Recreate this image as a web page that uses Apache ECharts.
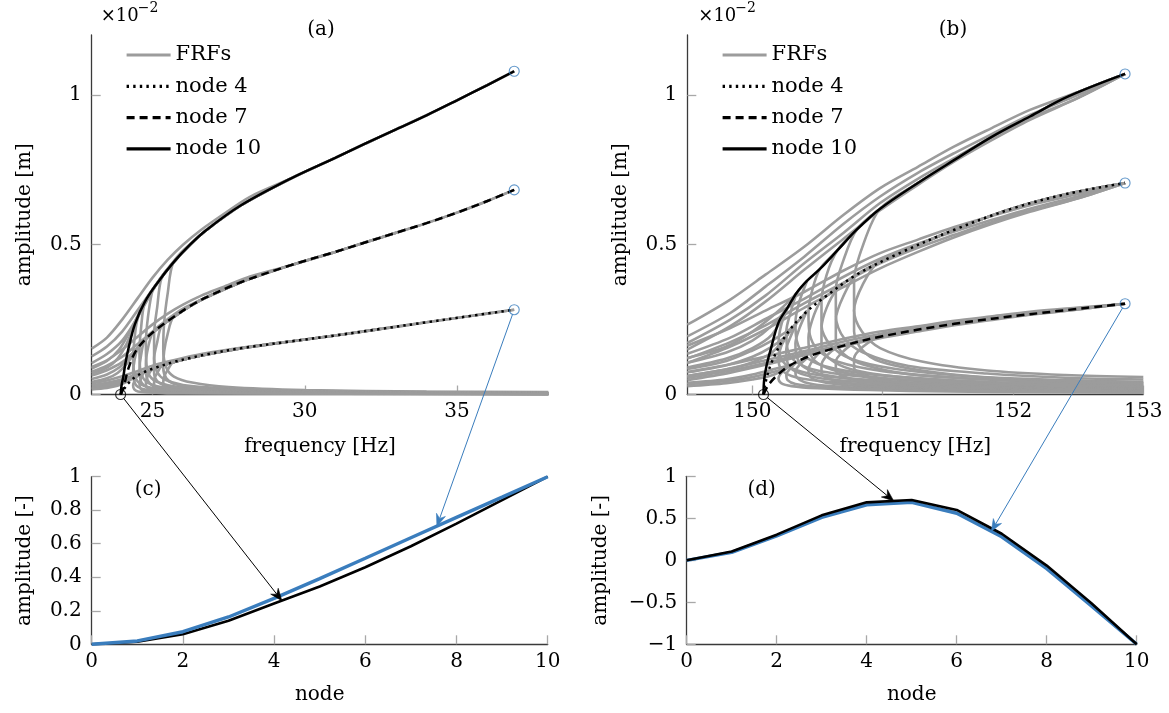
<!DOCTYPE html>
<html>
<head>
<meta charset="utf-8">
<script src="https://cdn.jsdelivr.net/npm/echarts@6.0.0/dist/echarts.min.js"></script>
<style>
  html, body { margin: 0; padding: 0; background: #fff; }
  #chart { width: 1169px; height: 713px; }
</style>
</head>
<body>
<div id="chart"></div>
<script>
// ---------------- data ----------------
// (a) first mode: backbone curves, [frequency Hz, amplitude m]
const backboneA10 = [[23.95,0],[23.98,0.0003],[24.04,0.0006],[24.1,0.001],[24.2,0.0015],[24.42,0.00235],[24.75,0.0031],[25.14,0.0037],[25.68,0.0044],[26.23,0.005],[26.78,0.0055],[27.88,0.0063],[29.52,0.0072],[31,0.0079],[32,0.00838],[33,0.00885],[34,0.00932],[35,0.00982],[36,0.01033],[36.88,0.01079]];
const backboneA7 = [[23.95,0],[24.04,0.0002],[24.1,0.00045],[24.2,0.00085],[24.42,0.0014],[24.75,0.00183],[25.14,0.00218],[25.68,0.00258],[26.23,0.00295],[26.78,0.00325],[27.88,0.00374],[29.52,0.00431],[31,0.00476],[32,0.00508],[33,0.0054],[34,0.00572],[35,0.00607],[36,0.00646],[36.88,0.00683]];
const backboneA4 = [[23.95,0],[24.04,0.00015],[24.2,0.00037],[24.42,0.00058],[24.75,0.00076],[25.14,0.00091],[25.68,0.00108],[26.23,0.00122],[26.78,0.00134],[27.88,0.00154],[29.52,0.00177],[31,0.00197],[32.5,0.00219],[34,0.00241],[35.5,0.00263],[36.88,0.00283]];

// (a) forced responses: rising branch up to where it meets the backbone
const rampA10 = [
  [[23,0.00153],[23.5,0.0019],[24,0.0025],[24.5,0.0032],[25,0.0039],[25.5,0.0045],[26,0.005],[26.6,0.0055],[27.3,0.006],[28.2,0.0066],[29.52,0.0072]],
  [[23,0.00127],[23.5,0.0016],[24,0.0021],[24.5,0.0028],[25,0.0035],[25.5,0.0042],[26,0.0048],[26.78,0.0055]],
  [[23,0.00105],[23.5,0.00135],[24,0.0018],[24.4,0.0024],[24.8,0.0031],[25.2,0.0038],[25.68,0.0044]],
  [[23,0.00087],[23.5,0.00112],[23.9,0.0015],[24.25,0.0021],[24.6,0.0028],[24.9,0.0033],[25.14,0.0037]],
  [[23,0.0007],[23.5,0.0009],[23.85,0.0012],[24.15,0.0017],[24.42,0.00235],[24.75,0.0031]]
];
const rampA7 = [
  [[23,0.00092],[23.5,0.00114],[24,0.0015],[24.5,0.00192],[25,0.00234],[25.5,0.0027],[26,0.003],[26.6,0.0033],[27.3,0.00358],[28.2,0.00394],[29.52,0.00431]],
  [[23,0.00076],[23.5,0.00096],[24,0.00126],[24.5,0.00168],[25,0.0021],[25.5,0.00252],[26,0.00287],[26.78,0.00325]],
  [[23,0.00063],[23.5,0.00081],[24,0.00108],[24.4,0.00144],[24.8,0.00186],[25.2,0.00228],[25.68,0.00258]],
  [[23,0.00052],[23.5,0.00067],[23.9,0.0009],[24.25,0.00126],[24.6,0.00168],[24.9,0.00198],[25.14,0.00218]],
  [[23,0.00042],[23.5,0.00054],[23.85,0.00072],[24.15,0.00102],[24.42,0.0014],[24.75,0.00183]]
];
const rampA4 = [
  [[23,0.00037],[23.5,0.00047],[24,0.00061],[24.5,0.00078],[25,0.00096],[25.5,0.0011],[26,0.00122],[26.6,0.00135],[27.3,0.00147],[28.2,0.0016],[29.52,0.00177]],
  [[23,0.00031],[23.5,0.00039],[24,0.00051],[24.5,0.00069],[25,0.00086],[25.5,0.00103],[26,0.00117],[26.78,0.00134]],
  [[23,0.00026],[23.5,0.00033],[24,0.00044],[24.4,0.00059],[24.8,0.00076],[25.2,0.00093],[25.68,0.00108]],
  [[23,0.00021],[23.5,0.00027],[23.9,0.00037],[24.25,0.00051],[24.6,0.00069],[24.9,0.00081],[25.14,0.00091]],
  [[23,0.00017],[23.5,0.00022],[23.85,0.00029],[24.15,0.00042],[24.42,0.00058],[24.75,0.00076]]
];
// (a) response peaks on the backbone [Hz]
const peakFreqA = [36.88, 33.5, 30.8, 28.2, 26.5];
// (a) branch leaving the backbone, turning point and low-amplitude branch
const hookA10 = [
  [[25.68,0.0044],[25.5,0.0034],[25.38,0.0024],[25.35,0.0015],[25.45,0.0009],[25.7,0.0006],[26.3,0.0004],[27.5,0.00025],[30,0.00015],[34,0.0001],[38,0.00008]],
  [[25.3,0.0039],[25.15,0.0029],[25.05,0.002],[25.05,0.0012],[25.15,0.00075],[25.4,0.0005],[26,0.00032],[27.5,0.0002],[30,0.00012],[34,0.00008],[38,0.00006]],
  [[25.0,0.00348],[24.85,0.0026],[24.78,0.0017],[24.8,0.001],[24.92,0.0006],[25.2,0.0004],[25.8,0.00026],[27.5,0.00016],[30,0.0001],[38,0.00005]],
  [[24.75,0.0031],[24.62,0.0022],[24.57,0.0014],[24.6,0.0008],[24.72,0.0005],[25,0.00032],[25.7,0.0002],[27.5,0.00012],[30,0.00008],[38,0.00004]],
  [[24.5,0.0025],[24.4,0.0018],[24.36,0.0012],[24.4,0.0007],[24.52,0.00042],[24.8,0.00026],[25.5,0.00016],[27.5,0.0001],[38,0.00003]]
];
const hookA7 = [
  [[25.68,0.00258],[25.5,0.00204],[25.38,0.00144],[25.35,0.0009],[25.45,0.00054],[25.7,0.00036],[26.3,0.00024],[27.5,0.00015],[30,0.00009],[34,0.00006],[38,0.00005]],
  [[25.3,0.0023],[25.15,0.00174],[25.05,0.0012],[25.05,0.00072],[25.15,0.00045],[25.4,0.0003],[26,0.00019],[27.5,0.00012],[30,0.00007],[38,0.00004]],
  [[25.0,0.00207],[24.85,0.00156],[24.78,0.00102],[24.8,0.0006],[24.92,0.00036],[25.2,0.00024],[25.8,0.00016],[27.5,0.0001],[38,0.00003]],
  [[24.75,0.00183],[24.62,0.0013],[24.57,0.00084],[24.6,0.00048],[24.72,0.0003],[25,0.00019],[25.7,0.00012],[27.5,0.00007],[38,0.00002]],
  [[24.5,0.0015],[24.4,0.0011],[24.36,0.00072],[24.4,0.00042],[24.52,0.00025],[24.8,0.00016],[25.5,0.0001],[38,0.00002]]
];
const hookA4 = [
  [[25.68,0.00108],[25.5,0.00083],[25.38,0.00059],[25.35,0.00037],[25.45,0.00022],[25.7,0.00015],[26.3,0.0001],[27.5,0.00006],[38,0.00002]],
  [[25.3,0.00095],[25.15,0.00071],[25.05,0.00049],[25.05,0.0003],[25.15,0.00018],[25.4,0.00012],[26,0.00008],[38,0.00002]],
  [[25.0,0.00086],[24.85,0.00064],[24.78,0.00042],[24.8,0.00025],[24.92,0.00015],[25.2,0.0001],[26,0.00006],[38,0.00001]],
  [[24.75,0.00076],[24.62,0.00054],[24.57,0.00034],[24.6,0.0002],[24.72,0.00012],[25,0.00008],[26,0.00005],[38,0.00001]],
  [[24.5,0.00062],[24.4,0.00044],[24.36,0.00029],[24.4,0.00017],[24.52,0.0001],[24.8,0.00007],[26,0.00004],[38,0.00001]]
];

// (b) second mode: backbone curves
const backboneB10 = [[150.085,0],[150.09,0.0005],[150.11,0.001],[150.14,0.0015],[150.2,0.0024],[150.27,0.0029],[150.34,0.0034],[150.42,0.0038],[150.52,0.0042],[150.65,0.0048],[150.8,0.0055],[150.98,0.0062],[151.27,0.00706],[151.55,0.00783],[151.84,0.00861],[152.13,0.00928],[152.42,0.00994],[152.86,0.0107]];
const backboneB4 = [[150.085,0],[150.1,0.0004],[150.15,0.0011],[150.26,0.002],[150.4,0.0027],[150.57,0.0033],[150.8,0.004],[151.12,0.0047],[151.55,0.0055],[151.99,0.0062],[152.42,0.0067],[152.86,0.00706]];
const backboneB7 = [[150.085,0],[150.12,0.0003],[150.18,0.0006],[150.28,0.00095],[150.45,0.0013],[150.7,0.00163],[150.98,0.00193],[151.55,0.00236],[152.13,0.00268],[152.86,0.00303]];

const rampB10 = [
  [[149.5,0.00233],[149.83,0.00317],[150.1,0.004],[150.4,0.00494],[150.7,0.006],[150.98,0.00689],[151.27,0.0076],[151.55,0.00828],[151.84,0.0089],[152.13,0.0095],[152.5,0.0101],[152.86,0.0107]],
  [[149.5,0.00194],[149.83,0.00272],[150.1,0.0036],[150.4,0.00461],[150.7,0.0057],[150.98,0.00661],[151.27,0.0074],[151.55,0.00806],[151.84,0.0087],[152.13,0.00933],[152.5,0.01],[152.86,0.0107]],
  [[149.5,0.00172],[149.83,0.0025],[150.1,0.0033],[150.4,0.00439],[150.7,0.0054],[150.98,0.00639],[151.27,0.0072],[151.55,0.00789],[151.84,0.0086],[152.13,0.00922],[152.5,0.0099],[152.86,0.0107]],
  [[149.5,0.0015],[149.83,0.00228],[150.1,0.0031],[150.4,0.00417],[150.7,0.0052],[150.98,0.00615],[151.27,0.007],[151.55,0.00778],[151.84,0.0085],[152.13,0.00917],[152.5,0.0099],[152.86,0.0107]],
  [[149.5,0.00122],[149.8,0.0016],[150,0.0021],[150.15,0.0026],[150.3,0.0032],[150.42,0.0038]],
  [[149.5,0.00106],[149.8,0.0014],[150,0.0018],[150.15,0.0023],[150.27,0.0029],[150.34,0.0034]],
  [[149.5,0.0009],[149.8,0.0012],[150,0.00155],[150.15,0.002],[150.27,0.0029]]
];
const rampB4 = [
  [[149.5,0.00163],[149.83,0.00222],[150.1,0.0028],[150.4,0.00343],[150.7,0.00414],[150.98,0.00472],[151.27,0.00517],[151.55,0.00559],[151.84,0.00596],[152.13,0.00632],[152.5,0.00669],[152.86,0.00706]],
  [[149.5,0.00136],[149.83,0.0019],[150.1,0.00252],[150.4,0.0032],[150.7,0.00393],[150.98,0.00453],[151.27,0.00503],[151.55,0.00544],[151.84,0.00583],[152.13,0.0062],[152.5,0.00662],[152.86,0.00706]],
  [[149.5,0.0012],[149.83,0.00175],[150.1,0.00231],[150.4,0.00305],[150.7,0.00373],[150.98,0.00438],[151.27,0.0049],[151.55,0.00533],[151.84,0.00576],[152.13,0.00613],[152.5,0.00655],[152.86,0.00706]],
  [[149.5,0.00105],[149.83,0.0016],[150.1,0.00217],[150.4,0.0029],[150.7,0.00359],[150.98,0.00421],[151.27,0.00476],[151.55,0.00525],[151.84,0.0057],[152.13,0.0061],[152.5,0.00655],[152.86,0.00706]],
  [[149.5,0.00085],[149.8,0.00112],[150,0.00147],[150.15,0.0018],[150.3,0.00222],[150.42,0.0028]],
  [[149.5,0.00074],[149.8,0.00098],[150,0.00126],[150.15,0.0016],[150.27,0.002],[150.34,0.0024]],
  [[149.5,0.00062],[149.8,0.00084],[150,0.00108],[150.15,0.0014],[150.27,0.002]]
];
const rampB7 = [
  [[149.5,0.00075],[149.83,0.00101],[150.1,0.00127],[150.4,0.00156],[150.7,0.00186],[150.98,0.0021],[151.27,0.00228],[151.55,0.00246],[151.84,0.00261],[152.13,0.00276],[152.5,0.0029],[152.86,0.00303]],
  [[149.5,0.00062],[149.83,0.00087],[150.1,0.00114],[150.4,0.00145],[150.7,0.00177],[150.98,0.00202],[151.27,0.00222],[151.55,0.00239],[151.84,0.00255],[152.13,0.00271],[152.5,0.00287],[152.86,0.00303]],
  [[149.5,0.00055],[149.83,0.0008],[150.1,0.00105],[150.4,0.00138],[150.7,0.00167],[150.98,0.00195],[151.27,0.00216],[151.55,0.00234],[151.84,0.00252],[152.13,0.00267],[152.5,0.00284],[152.86,0.00303]],
  [[149.5,0.00048],[149.83,0.00073],[150.1,0.00099],[150.4,0.00131],[150.7,0.00161],[150.98,0.00188],[151.27,0.0021],[151.55,0.00231],[151.84,0.00249],[152.13,0.00266],[152.5,0.00284],[152.86,0.00303]],
  [[149.5,0.00039],[149.8,0.00051],[150,0.00067],[150.15,0.00083],[150.3,0.001],[150.42,0.00122]],
  [[149.5,0.00034],[149.8,0.00045],[150,0.00058],[150.15,0.00074],[150.27,0.0009],[150.34,0.00109]],
  [[149.5,0.00028],[149.8,0.00038],[150,0.0005],[150.15,0.00064],[150.27,0.0009]]
];
const peakFreqB = [152.86, 152.86, 152.86, 152.86, 150.42, 150.34, 150.27];
const hookB10 = [
  [[150.98,0.0062],[150.85,0.005],[150.78,0.0038],[150.78,0.0028],[150.84,0.0021],[150.98,0.00155],[151.3,0.0011],[151.8,0.0008],[152.4,0.00065],[153,0.00058]],
  [[150.8,0.0055],[150.7,0.0045],[150.64,0.0035],[150.64,0.0026],[150.7,0.0019],[150.85,0.0014],[151.2,0.00095],[151.8,0.0007],[152.4,0.00056],[153,0.0005]],
  [[150.65,0.0048],[150.57,0.004],[150.53,0.0031],[150.53,0.0023],[150.59,0.0017],[150.75,0.0012],[151.1,0.00085],[151.7,0.0006],[152.4,0.00048],[153,0.00042]],
  [[150.52,0.0042],[150.46,0.0035],[150.43,0.0027],[150.44,0.002],[150.5,0.0015],[150.65,0.0011],[151,0.00078],[151.6,0.00055],[152.3,0.00043],[153,0.00037]],
  [[150.42,0.0038],[150.36,0.0031],[150.33,0.0024],[150.34,0.0018],[150.4,0.0013],[150.55,0.00095],[150.9,0.00068],[151.5,0.00048],[152.2,0.00036],[153,0.0003]],
  [[150.34,0.0034],[150.29,0.0027],[150.26,0.0021],[150.27,0.0015],[150.33,0.0011],[150.5,0.0008],[150.9,0.00057],[151.5,0.0004],[152.2,0.0003],[153,0.00025]],
  [[150.27,0.0029],[150.22,0.0023],[150.2,0.0017],[150.22,0.0012],[150.3,0.00088],[150.5,0.00065],[150.9,0.00047],[151.5,0.00033],[152.2,0.00025],[153,0.0002]]
];
const hookB4 = [
  [[150.98,0.0045],[150.85,0.0037],[150.78,0.0028],[150.78,0.0021],[150.84,0.0015],[150.98,0.0011],[151.3,0.0008],[151.8,0.00057],[152.4,0.00046],[153,0.0004]],
  [[150.8,0.004],[150.7,0.0033],[150.64,0.0025],[150.64,0.0018],[150.7,0.00135],[150.85,0.001],[151.2,0.00068],[151.8,0.0005],[152.4,0.0004],[153,0.00035]],
  [[150.65,0.0035],[150.57,0.0029],[150.53,0.0022],[150.53,0.0016],[150.59,0.0012],[150.75,0.00085],[151.1,0.0006],[151.7,0.00043],[152.4,0.00034],[153,0.0003]],
  [[150.52,0.0031],[150.46,0.0025],[150.43,0.0019],[150.44,0.0014],[150.5,0.00105],[150.65,0.00078],[151,0.00055],[151.6,0.0004],[152.3,0.0003],[153,0.00026]],
  [[150.42,0.0028],[150.36,0.0022],[150.33,0.0017],[150.34,0.00126],[150.4,0.0009],[150.55,0.00066],[150.9,0.00048],[151.5,0.00034],[152.2,0.00025],[153,0.00021]],
  [[150.34,0.0024],[150.29,0.0019],[150.26,0.0015],[150.27,0.00105],[150.33,0.00077],[150.5,0.00056],[150.9,0.0004],[151.5,0.00028],[152.2,0.00021],[153,0.00018]],
  [[150.27,0.002],[150.22,0.0016],[150.2,0.0012],[150.22,0.00084],[150.3,0.00062],[150.5,0.00046],[150.9,0.00033],[151.5,0.00023],[152.2,0.00018],[153,0.00014]]
];
const hookB7 = [
  [[150.98,0.00193],[150.85,0.0016],[150.78,0.0012],[150.78,0.0009],[150.84,0.00066],[150.98,0.00048],[151.3,0.00034],[151.8,0.00025],[152.4,0.0002],[153,0.00017]],
  [[150.8,0.00175],[150.7,0.00145],[150.64,0.0011],[150.64,0.0008],[150.7,0.0006],[150.85,0.00043],[151.2,0.0003],[151.8,0.00022],[152.4,0.00017],[153,0.00015]],
  [[150.65,0.00157],[150.57,0.0013],[150.53,0.00097],[150.53,0.0007],[150.59,0.00052],[150.75,0.00037],[151.1,0.00026],[151.7,0.00019],[152.4,0.00015],[153,0.00013]],
  [[150.52,0.0014],[150.46,0.00112],[150.43,0.00083],[150.44,0.00061],[150.5,0.00046],[150.65,0.00034],[151,0.00024],[151.6,0.00017],[152.3,0.00013],[153,0.00011]],
  [[150.42,0.00122],[150.36,0.00098],[150.33,0.00077],[150.34,0.00057],[150.4,0.00041],[150.55,0.0003],[150.9,0.00021],[151.5,0.00015],[152.2,0.00011],[153,0.00009]],
  [[150.34,0.00109],[150.29,0.00086],[150.26,0.00067],[150.27,0.00048],[150.33,0.00035],[150.5,0.00026],[150.9,0.00018],[151.5,0.00013],[152.2,0.0001],[153,0.00008]],
  [[150.27,0.0009],[150.22,0.00071],[150.2,0.00054],[150.22,0.00038],[150.3,0.00028],[150.5,0.00021],[150.9,0.00015],[151.5,0.0001],[152.2,0.00008],[153,0.00006]]
];

// (c), (d) deflection shapes along the beam, normalised
const nodeIndex = [0,1,2,3,4,5,6,7,8,9,10];
const shapeC_low  = [0, 0.015, 0.06, 0.14, 0.243, 0.345, 0.46, 0.585, 0.72, 0.86, 1.0];
const shapeC_high = [0, 0.02, 0.075, 0.163, 0.274, 0.392, 0.513, 0.636, 0.757, 0.878, 1.0];
const shapeD_low  = [0, 0.105, 0.305, 0.535, 0.69, 0.718, 0.6, 0.316, -0.063, -0.515, -1.0];
const shapeD_high = [0, 0.095, 0.29, 0.51, 0.66, 0.69, 0.56, 0.28, -0.1, -0.545, -1.0];
// where the arrows land on the shapes (node coordinate)
const arrowNodeC = { low: 4.17, high: 7.57 };
const arrowNodeD = { low: 4.6, high: 6.77 };

// tick values
const freqTicksA = [25, 30, 35];
const freqTicksB = [150, 151, 152, 153];
const ampTicks = [0, 0.005, 0.01];
const legendNames = ['FRFs', 'node 4', 'node 7', 'node 10'];

// ---------------- style ----------------
const FONT = "'DejaVu Serif', serif";
const GREY = '#9c9c9c';
const BLUE = '#3a7dbd';
const BLACK = '#000000';
const DOT = [2.4, 4.2];
const DASH = [8, 5];

const gridA = { left: 91.7, top: 35, width: 456.6, height: 359.5 };
const gridB = { left: 687.3, top: 35, width: 456, height: 359.5 };
const gridC = { left: 91.7, top: 476.7, width: 456, height: 167.6 };
const gridD = { left: 686.7, top: 476.3, width: 450, height: 168 };

function axisBase(gridIndex) {
  return {
    gridIndex, type: 'value',
    axisLine: { show: true, onZero: false, lineStyle: { color: '#3a3a3a', width: 1.3 } },
    splitLine: { show: false },
    nameLocation: 'middle',
    nameMoveOverlap: false,
    nameTextStyle: { color: '#000', fontFamily: FONT, fontSize: 20 }
  };
}
function tick(extra) {
  return Object.assign({ show: true, inside: true, length: 9, lineStyle: { color: '#a8a8a8', width: 1.3 } }, extra || {});
}
function label(extra) {
  return Object.assign({ color: '#000', fontFamily: FONT, fontSize: 20 }, extra || {});
}
const ampFormatter = v => (Math.abs(v) < 1e-12 ? '0' : String(+(v * 100).toFixed(2)));
const minusFormatter = v => (v < 0 ? '\u2212' + String(-v) : String(v));

function greyLine(g, data) {
  return { type: 'line', name: 'FRFs', xAxisIndex: g, yAxisIndex: g, data,
    symbol: 'none', showSymbol: false, smooth: 0.3, silent: true, z: 2,
    itemStyle: { color: GREY }, lineStyle: { color: GREY, width: 2.6 } };
}
function blackLine(g, name, data, type) {
  return { type: 'line', name, xAxisIndex: g, yAxisIndex: g, data,
    symbol: 'none', showSymbol: false, smooth: 0.35, silent: true, z: 3,
    itemStyle: { color: BLACK }, lineStyle: { color: BLACK, width: 2.5, type: type, cap: 'butt' } };
}
// each response: rising part + backbone up to its peak; then backbone back down + turning branch
function frfSeries(g, backbone, ramps, hooks, peaks) {
  const out = [];
  ramps.forEach((ramp, i) => {
    const joinF = ramp[ramp.length - 1][0];
    const up = ramp.concat(backbone.filter(p => p[0] > joinF && p[0] <= peaks[i] + 1e-9));
    const depF = hooks[i][0][0];
    const down = backbone.filter(p => p[0] > depF && p[0] <= peaks[i] + 1e-9).reverse().concat(hooks[i]);
    out.push(greyLine(g, up), greyLine(g, down));
  });
  return out;
}
function circles(g, pts, color) {
  return { type: 'scatter', xAxisIndex: g, yAxisIndex: g, data: pts, symbol: 'circle', symbolSize: 10,
    silent: true, z: 5, itemStyle: { color: 'rgba(0,0,0,0)', borderColor: color, borderWidth: 1.1 } };
}
const pairs = (xs, ys) => xs.map((x, i) => [x, ys[i]]);
const last = a => a[a.length - 1];

const series = [].concat(
  frfSeries(0, backboneA10, rampA10, hookA10, peakFreqA),
  frfSeries(0, backboneA7, rampA7, hookA7, peakFreqA),
  frfSeries(0, backboneA4, rampA4, hookA4, peakFreqA),
  frfSeries(1, backboneB10, rampB10, hookB10, peakFreqB),
  frfSeries(1, backboneB4, rampB4, hookB4, peakFreqB),
  frfSeries(1, backboneB7, rampB7, hookB7, peakFreqB),
  [
    blackLine(0, 'node 4', backboneA4, DOT),
    blackLine(0, 'node 7', backboneA7, DASH),
    blackLine(0, 'node 10', backboneA10, 'solid'),
    blackLine(1, 'node 4', backboneB4, DOT),
    blackLine(1, 'node 7', backboneB7, DASH),
    blackLine(1, 'node 10', backboneB10, 'solid'),
    circles(0, [backboneA10[0]], BLACK),
    circles(0, [last(backboneA10), last(backboneA7), last(backboneA4)], BLUE),
    circles(1, [backboneB10[0]], BLACK),
    circles(1, [last(backboneB10), last(backboneB4), last(backboneB7)], BLUE),
    { type: 'line', xAxisIndex: 2, yAxisIndex: 2, data: pairs(nodeIndex, shapeC_low), symbol: 'none', silent: true, z: 3,
      lineStyle: { color: BLACK, width: 2.6 } },
    { type: 'line', xAxisIndex: 2, yAxisIndex: 2, data: pairs(nodeIndex, shapeC_high), symbol: 'none', silent: true, z: 4,
      lineStyle: { color: BLUE, width: 3.4 } },
    { type: 'line', xAxisIndex: 3, yAxisIndex: 3, data: pairs(nodeIndex, shapeD_high), symbol: 'none', silent: true, z: 3,
      lineStyle: { color: BLUE, width: 3.4 } },
    { type: 'line', xAxisIndex: 3, yAxisIndex: 3, data: pairs(nodeIndex, shapeD_low), symbol: 'none', silent: true, z: 4,
      lineStyle: { color: BLACK, width: 2.6 } }
  ]
);

function legendAt(left) {
  return { left, top: 44, orient: 'vertical', data: legendNames, selectedMode: false, padding: 0,
    itemWidth: 44, itemHeight: 22, itemGap: 9.3,
    itemStyle: { opacity: 0 },
    lineStyle: { width: 3.2 },
    textStyle: { color: '#000', fontFamily: FONT, fontSize: 21, lineHeight: 22 } };
}

const option = {
  animation: false,
  backgroundColor: '#ffffff',
  grid: [gridA, gridB, gridC, gridD].map(g => Object.assign({ outerBoundsMode: 'none', containLabel: false }, g)),
  legend: [legendAt(125), legendAt(721)],
  xAxis: [
    Object.assign(axisBase(0), { min: 23, max: 38, name: 'frequency [Hz]', nameGap: 42,
      axisTick: tick({ customValues: freqTicksA }), axisLabel: label({ margin: 7, customValues: freqTicksA }) }),
    Object.assign(axisBase(1), { min: 149.5, max: 153, name: 'frequency [Hz]', nameGap: 42,
      axisTick: tick({ customValues: freqTicksB }), axisLabel: label({ margin: 7, customValues: freqTicksB }) }),
    Object.assign(axisBase(2), { min: 0, max: 10, interval: 2, name: 'node', nameGap: 40,
      axisTick: tick(), axisLabel: label({ margin: 7, showMinLabel: true, showMaxLabel: true }) }),
    Object.assign(axisBase(3), { min: 0, max: 10, interval: 2, name: 'node', nameGap: 40,
      axisTick: tick(), axisLabel: label({ margin: 7, showMinLabel: true, showMaxLabel: true }) })
  ],
  yAxis: [
    Object.assign(axisBase(0), { min: 0, max: 0.012, name: 'amplitude [m]', nameGap: 57,
      axisTick: tick({ customValues: ampTicks }), axisLabel: label({ margin: 10, customValues: ampTicks, formatter: ampFormatter }) }),
    Object.assign(axisBase(1), { min: 0, max: 0.012, name: 'amplitude [m]', nameGap: 57,
      axisTick: tick({ customValues: ampTicks }), axisLabel: label({ margin: 10, customValues: ampTicks, formatter: ampFormatter }) }),
    Object.assign(axisBase(2), { min: 0, max: 1, interval: 0.2, name: 'amplitude [-]', nameGap: 57,
      axisTick: tick(), axisLabel: label({ margin: 10, formatter: v => String(+v.toFixed(1)) }) }),
    Object.assign(axisBase(3), { min: -1, max: 1, interval: 0.5, name: 'amplitude [-]', nameGap: 76,
      axisTick: tick(), axisLabel: label({ margin: 9.5, formatter: minusFormatter }) })
  ],
  series
};

const chart = echarts.init(document.getElementById('chart'), null, { renderer: 'canvas' });
chart.setOption(option);

// ---------------- annotations ----------------
function text(x, y, str, size, align) {
  return { type: 'text', x, y, z: 30, silent: true,
    style: { text: str, fill: '#000', font: size + 'px ' + FONT,
      align: align || 'center', textAlign: align || 'center', verticalAlign: 'middle', textVerticalAlign: 'middle' } };
}
function valueAt(values, n) {
  const i = Math.min(Math.floor(n), values.length - 2);
  const t = n - i;
  return values[i] + (values[i + 1] - values[i]) * t;
}
// thin connector from a circle to a point on a shape, ending in a stealth-type head
function arrow(from, to, color, width) {
  const dx = to[0] - from[0], dy = to[1] - from[1];
  const len = Math.hypot(dx, dy);
  const ux = dx / len, uy = dy / len, nx = -uy, ny = ux;
  const r = 5, L = 12, W = 9.5;
  const bx = to[0] - ux * L, by = to[1] - uy * L;
  const notch = [to[0] - ux * L * 0.68, to[1] - uy * L * 0.68];
  return [
    { type: 'line', z: 40, silent: true,
      shape: { x1: from[0] + ux * r, y1: from[1] + uy * r, x2: notch[0], y2: notch[1] },
      style: { stroke: color, lineWidth: width } },
    { type: 'polygon', z: 41, silent: true,
      shape: { points: [to, [bx + nx * W / 2, by + ny * W / 2], notch, [bx - nx * W / 2, by - ny * W / 2]] },
      style: { fill: color, stroke: color, lineWidth: 0.6, lineJoin: 'miter' } }
  ];
}

const px = (g, p) => chart.convertToPixel({ gridIndex: g }, p);

const aStart = px(0, backboneA10[0]);
const aEnd = px(0, last(backboneA4));
const bStart = px(1, backboneB10[0]);
const bEnd = px(1, last(backboneB7));
const cLow = px(2, [arrowNodeC.low, valueAt(shapeC_low, arrowNodeC.low)]);
const cHigh = px(2, [arrowNodeC.high, valueAt(shapeC_high, arrowNodeC.high)]);
const dLow = px(3, [arrowNodeD.low, valueAt(shapeD_low, arrowNodeD.low)]);
const dHigh = px(3, [arrowNodeD.high, valueAt(shapeD_high, arrowNodeD.high)]);

const graphics = [
  text(gridA.left + gridA.width / 2 + 1, 30, '(a)', 20),
  text(953, 30, '(b)', 20),
  text(gridA.left + 9, 16, '\u00d710', 18, 'left'),
  text(gridA.left + 46, 8, '\u22122', 14, 'left'),
  text(gridB.left + 11, 16, '\u00d710', 18, 'left'),
  text(gridB.left + 48, 8, '\u22122', 14, 'left'),
  text(gridC.left + 56.5, 490, '(c)', 20),
  text(gridD.left + 75, 490, '(d)', 20)
].concat(
  arrow(aStart, cLow, BLACK, 1),
  arrow(aEnd, cHigh, BLUE, 1),
  arrow(bStart, dLow, BLACK, 1),
  arrow(bEnd, dHigh, BLUE, 1)
);

chart.setOption({ graphic: graphics });
</script>
</body>
</html>
